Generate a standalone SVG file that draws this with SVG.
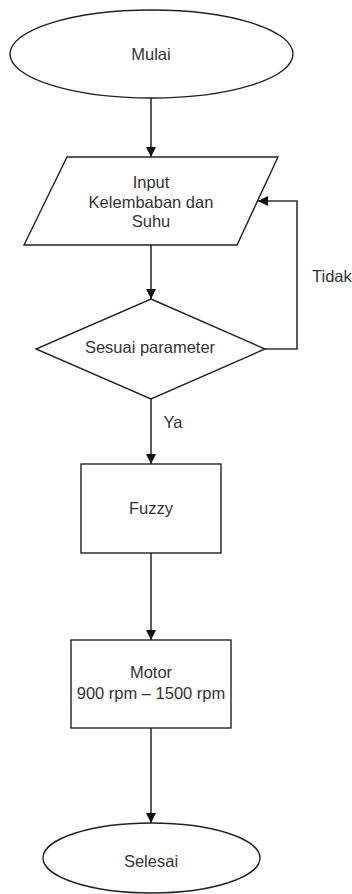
<svg xmlns="http://www.w3.org/2000/svg" width="352" height="894" viewBox="0 0 352 894">
<style>
.s{fill:#fff;stroke:#222;stroke-width:1.4}
.t{font-family:"Liberation Sans",Arial,sans-serif;font-size:16.5px;fill:#333;text-anchor:middle}
.c{fill:none;stroke:#333;stroke-width:1.6}
</style>
<defs>
<marker id="ah" markerUnits="userSpaceOnUse" markerWidth="10" markerHeight="14" refX="10" refY="5" orient="auto">
<path d="M0,0 L10,5 L0,10 z" fill="#111"/>
</marker>
</defs>
<rect width="352" height="894" fill="#fff"/>
<g id="connectors">
<line class="c" x1="151" y1="98" x2="151" y2="157" marker-end="url(#ah)"/>
<line class="c" x1="151" y1="245" x2="151" y2="299" marker-end="url(#ah)"/>
<line class="c" x1="151" y1="399" x2="151" y2="464" marker-end="url(#ah)"/>
<line class="c" x1="151" y1="553" x2="151" y2="640" marker-end="url(#ah)"/>
<line class="c" x1="151" y1="728" x2="151" y2="823" marker-end="url(#ah)"/>
<polyline class="c" points="265,349 297,349 297,201 258,201" marker-end="url(#ah)"/>
<text class="t" x="173" y="428">Ya</text>
<text class="t" x="312" y="282" style="text-anchor:start">Tidak</text>
</g>
<g id="mulai">
<ellipse class="s" cx="151.5" cy="54" rx="141.5" ry="44"/>
<text class="t" x="151" y="60">Mulai</text>
</g>
<g id="input">
<polygon class="s" points="67,157 278,157 237,245 24,245"/>
<text class="t" x="151" y="188">Input</text>
<text class="t" x="151" y="208">Kelembaban dan</text>
<text class="t" x="151" y="227">Suhu</text>
</g>
<g id="decision">
<polygon class="s" points="151,299 265,349 151,399 36,349"/>
<text class="t" x="150" y="353">Sesuai parameter</text>
</g>
<g id="fuzzy">
<rect class="s" x="81" y="464" width="140" height="89"/>
<text class="t" x="151" y="514">Fuzzy</text>
</g>
<g id="motor">
<rect class="s" x="71" y="640" width="160" height="88"/>
<text class="t" x="151" y="678">Motor</text>
<text class="t" x="151" y="699">900 rpm – 1500 rpm</text>
</g>
<g id="selesai">
<ellipse class="s" cx="151.5" cy="858" rx="108.5" ry="35"/>
<text class="t" x="151" y="867">Selesai</text>
</g>
</svg>
